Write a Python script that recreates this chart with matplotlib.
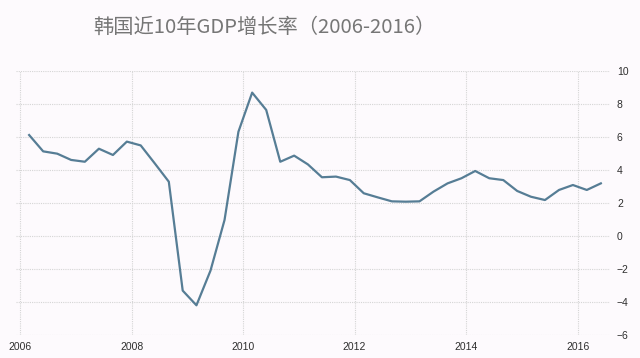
import pandas as pd
import matplotlib
matplotlib.use("Agg")
import matplotlib.pyplot as plt

# quarterly GDP growth, 2006 Q1 .. 2016 Q2
growth = [6.12, 5.13, 4.99, 4.61,
          4.50, 5.29, 4.91, 5.72,
          5.49, 4.40, 3.29, -3.31,
          -4.20, -2.10, 0.97, 6.32,
          8.69, 7.64, 4.50, 4.87,
          4.34, 3.56, 3.60, 3.39,
          2.59, 2.34, 2.10, 2.08,
          2.10, 2.69, 3.19, 3.50,
          3.94, 3.50, 3.39, 2.73,
          2.38, 2.18, 2.79, 3.09,
          2.79, 3.19]
dates = pd.date_range("2006-03-01", periods=len(growth), freq="3MS")
year_ticks = ["2006", "2008", "2010", "2012", "2014", "2016"]
y_ticks = [10, 8, 6, 4, 2, 0, -2, -4, -6]
title = "韩国近10年GDP增长率（2006-2016）"

bg = "#fdfafd"
fig = plt.figure(figsize=(6.4, 3.58), dpi=100, facecolor=bg)
ax = fig.add_axes([16/640, 1-335/358, 594/640, 264/358])
ax.set_facecolor(bg)

ax.plot(dates, growth, color="#567d95", lw=1.6)

ax.set_ylim(-6, 10)
ax.set_xlim(pd.Timestamp("2005-12-05"), pd.Timestamp("2016-07-31"))
ax.set_yticks(y_ticks)
ax.set_xticks([pd.Timestamp(y + "-01-01") for y in year_ticks])
ax.set_xticklabels(year_ticks)
ax.yaxis.tick_right()
for s in ax.spines.values():
    s.set_visible(False)
ax.grid(True, color="#d5d5d5", lw=0.8, ls=(0, (1, 1)))
ax.tick_params(length=0, labelsize=7.5, labelcolor="#2e2e2e")
ax.tick_params(axis="y", pad=5)
ax.tick_params(axis="x", pad=5)
for lab in ax.get_xticklabels() + ax.get_yticklabels():
    lab.set_family("Liberation Sans")

fig.text(264/640, 1-27/358, title, ha="center", va="center", fontsize=14.6,
         color="#767676", family=["Noto Sans CJK SC", "DejaVu Sans"], fontweight="light")

fig.savefig("out.png", dpi=100, facecolor=bg)
